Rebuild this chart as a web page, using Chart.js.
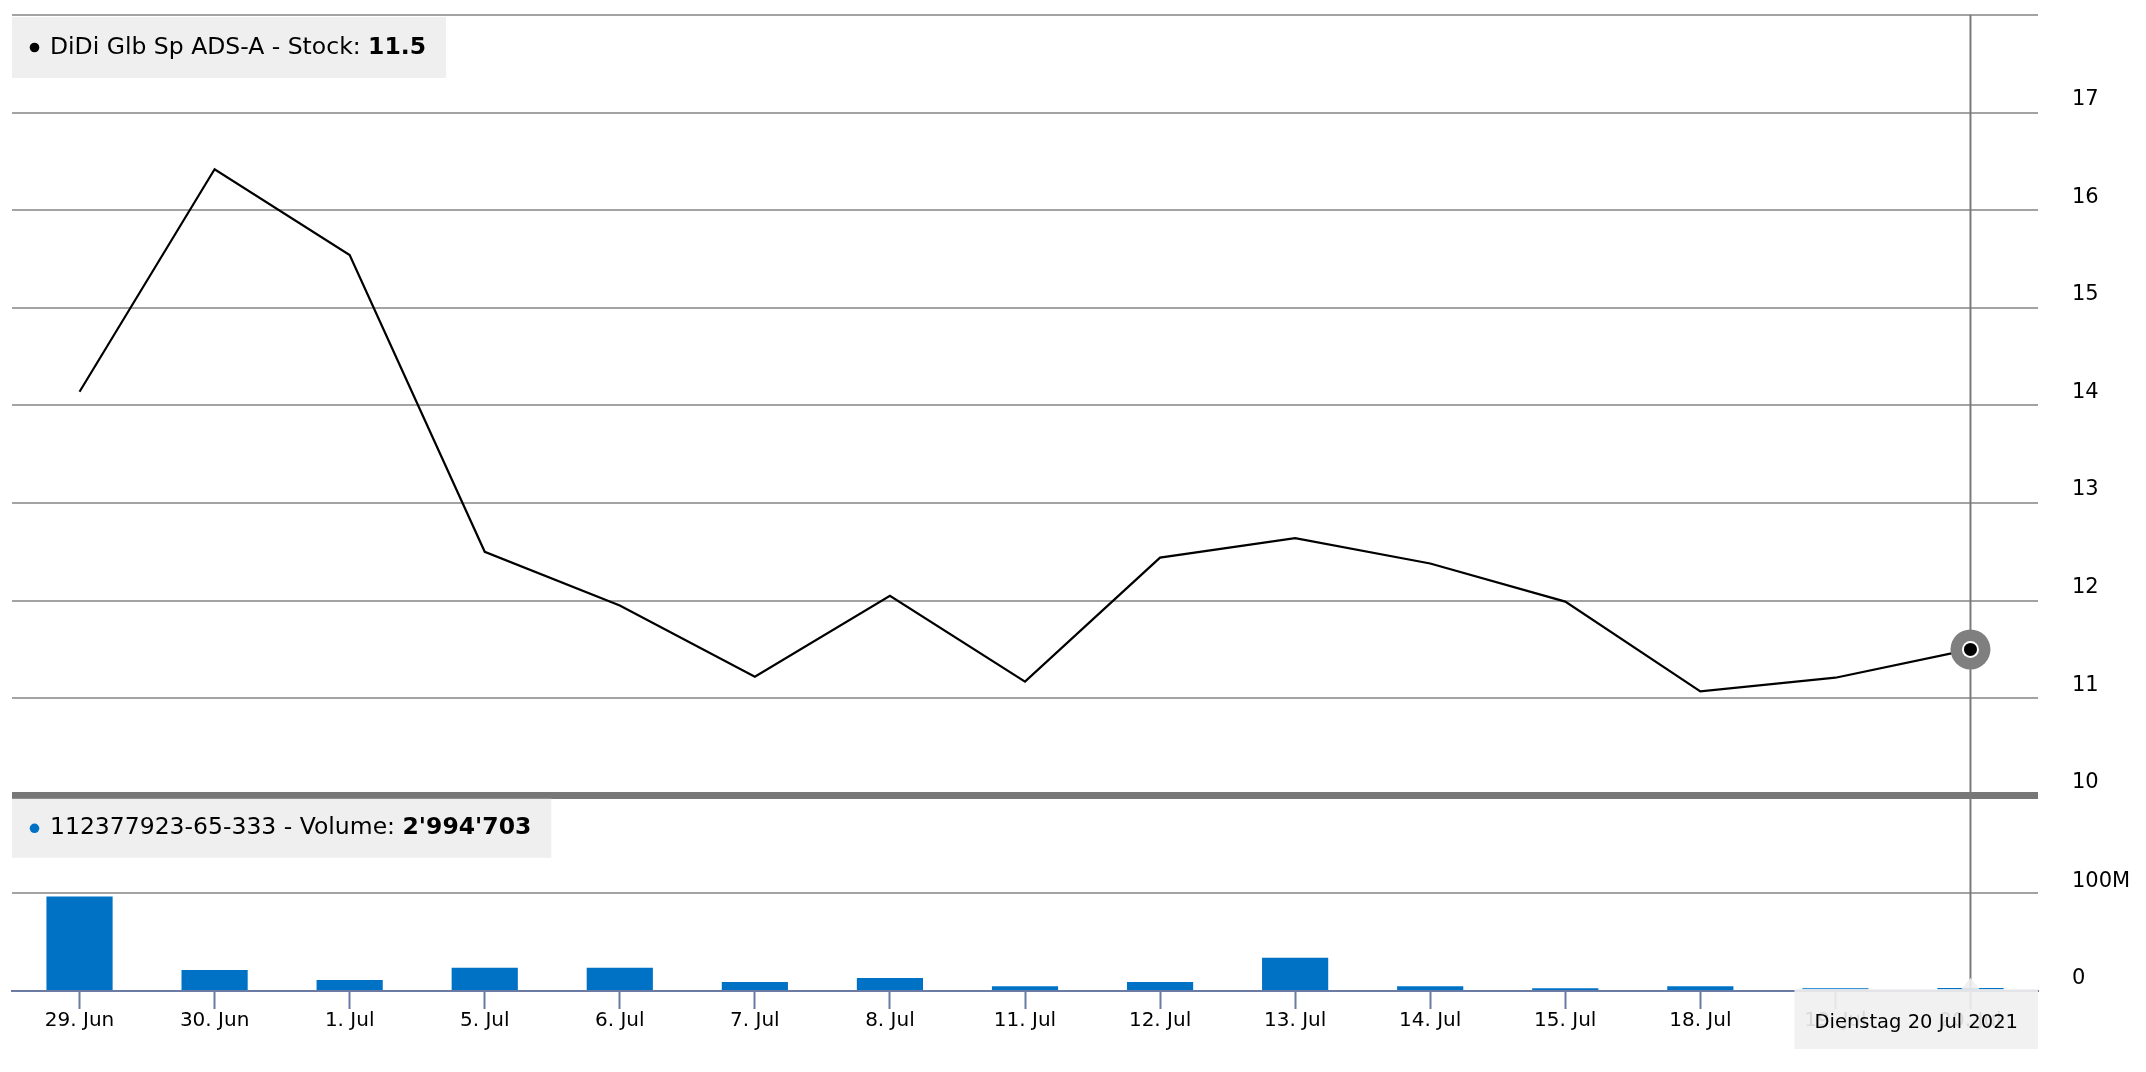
<!DOCTYPE html>
<html>
<head>
<meta charset="utf-8">
<script src="https://cdn.jsdelivr.net/npm/chart.js@4.4.0/dist/chart.umd.min.js"></script>
<style>
  html, body { margin: 0; padding: 0; background: #fff; }
  #wrap { position: relative; width: 2146px; height: 1072px; }
</style>
</head>
<body>
<div id="wrap"><canvas id="chart" width="2146" height="1072"></canvas></div>
<script>
var labels = ['29. Jun', '30. Jun', '1. Jul', '5. Jul', '6. Jul', '7. Jul', '8. Jul', '11. Jul',
              '12. Jul', '13. Jul', '14. Jul', '15. Jul', '18. Jul', '19. Jul', '20. Jul'];
var price = [14.14, 16.42, 15.54, 12.50, 11.95, 11.22, 12.05, 11.17,
             12.44, 12.64, 12.38, 11.99, 11.07, 11.21, 11.5];
var volume = [96900000, 21600000, 11200000, 23700000, 23700000, 9100000, 13300000, 4900000,
              9100000, 34000000, 4900000, 2800000, 4900000, 2800000, 2994703];
var priceTicks = [10, 11, 12, 13, 14, 15, 16, 17, 18];
var volumeTicks = [0, 100000000, 200000000];

var priceName = 'DiDi Glb Sp ADS-A - Stock: ';
var volumeName = '112377923-65-333 - Volume: ';
var tooltipTitle = 'Dienstag 20 Jul 2021';

var FONT = '"DejaVu Sans", sans-serif';
var lastIdx = labels.length - 1;

Chart.defaults.font.family = FONT;
Chart.defaults.color = '#000';

function fmtVolume(v) {
    return String(v).replace(/\B(?=(\d{3})+(?!\d))/g, "'");
}

function drawLegendBox(ctx, left, top, height, dotColor, text, value) {
    ctx.save();
    ctx.font = '23.5px ' + FONT;
    var w1 = ctx.measureText(text).width;
    ctx.font = 'bold 23.5px ' + FONT;
    var w2 = ctx.measureText(value).width;
    var boxW = 38 + w1 + w2 + 20;
    ctx.fillStyle = '#efefef';
    ctx.fillRect(left, top, boxW, height);

    var cy = top + height / 2;
    ctx.fillStyle = dotColor;
    ctx.beginPath();
    ctx.arc(left + 22.5, cy, 4.8, 0, Math.PI * 2);
    ctx.fill();

    ctx.fillStyle = '#000';
    ctx.textBaseline = 'middle';
    ctx.font = '23.5px ' + FONT;
    ctx.fillText(text, left + 38, cy);
    ctx.font = 'bold 23.5px ' + FONT;
    ctx.fillText(value, left + 38 + w1, cy);
    ctx.restore();
}

function noPadding(scale) {
    scale.paddingTop = 0;
    scale.paddingBottom = 0;
    scale.paddingLeft = 0;
    scale.paddingRight = 0;
}

var hoverPlugin = {
    id: 'hover',
    beforeDatasetsDraw: function (chart) {
        var ctx = chart.ctx;
        var area = chart.chartArea;
        var pt = chart.getDatasetMeta(0).data[lastIdx];

        // crosshair
        ctx.save();
        ctx.strokeStyle = '#7a7a7a';
        ctx.lineWidth = 2;
        ctx.beginPath();
        ctx.moveTo(pt.x, area.top);
        ctx.lineTo(pt.x, area.bottom);
        ctx.stroke();
        ctx.restore();
    },
    afterDatasetsDraw: function (chart) {
        var ctx = chart.ctx;
        var pt = chart.getDatasetMeta(0).data[lastIdx];
        // halo + marker
        ctx.save();
        ctx.fillStyle = '#7f7f7f';
        ctx.beginPath();
        ctx.arc(pt.x, pt.y, 20, 0, Math.PI * 2);
        ctx.fill();
        ctx.fillStyle = '#fff';
        ctx.beginPath();
        ctx.arc(pt.x, pt.y, 8.5, 0, Math.PI * 2);
        ctx.fill();
        ctx.fillStyle = '#000';
        ctx.beginPath();
        ctx.arc(pt.x, pt.y, 6.5, 0, Math.PI * 2);
        ctx.fill();
        ctx.restore();
    },
    afterDraw: function (chart) {
        var ctx = chart.ctx;
        var area = chart.chartArea;
        var yP = chart.scales.yPrice;
        var yV = chart.scales.yVol;
        var pt = chart.getDatasetMeta(0).data[lastIdx];

        drawLegendBox(ctx, area.left, yP.top + 2, 61, '#000', priceName, String(price[lastIdx]));
        drawLegendBox(ctx, area.left, yV.top + 3, 59, '#0072c6', volumeName, fmtVolume(volume[lastIdx]));

        // date tooltip under the x axis
        ctx.save();
        ctx.font = '19.5px ' + FONT;
        var tw = ctx.measureText(tooltipTitle).width;
        var boxW = tw + 40;
        var boxR = area.right;
        var boxL = boxR - boxW;
        var boxT = area.bottom - 2;
        var boxB = boxT + 60;
        ctx.fillStyle = 'rgba(239,239,239,0.9)';
        ctx.beginPath();
        ctx.moveTo(boxL, boxT);
        ctx.lineTo(pt.x - 9, boxT);
        ctx.lineTo(pt.x, boxT - 11);
        ctx.lineTo(pt.x + 9, boxT);
        ctx.lineTo(boxR, boxT);
        ctx.lineTo(boxR, boxB);
        ctx.lineTo(boxL, boxB);
        ctx.closePath();
        ctx.fill();
        ctx.fillStyle = '#000';
        ctx.textAlign = 'center';
        ctx.textBaseline = 'middle';
        ctx.fillText(tooltipTitle, (boxL + boxR) / 2, boxT + 34);
        ctx.restore();
    }
};

new Chart(document.getElementById('chart'), {
    data: {
        labels: labels,
        datasets: [{
            type: 'line',
            data: price,
            yAxisID: 'yPrice',
            borderColor: '#000',
            borderWidth: 2.2,
            pointRadius: 0,
            tension: 0
        }, {
            type: 'bar',
            data: volume,
            yAxisID: 'yVol',
            backgroundColor: '#0072c6',
            categoryPercentage: 1,
            barPercentage: 0.49
        }]
    },
    options: {
        responsive: false,
        animation: false,
        devicePixelRatio: 1,
        layout: { padding: { left: 12, top: 15, right: 0, bottom: 0 } },
        plugins: {
            legend: { display: false },
            tooltip: { enabled: false }
        },
        scales: {
            x: {
                type: 'category',
                offset: true,
                grid: {
                    offset: false,
                    drawOnChartArea: false,
                    drawTicks: true,
                    tickLength: 18,
                    tickWidth: 2,
                    tickColor: '#6b7ba3'
                },
                border: { color: '#6b7ba3', width: 2 },
                ticks: {
                    font: { size: 20 },
                    color: '#000',
                    padding: 0,
                    maxRotation: 0,
                    autoSkip: false
                },
                afterFit: function (scale) { scale.height = 81; noPadding(scale); }
            },
            yPrice: {
                type: 'linear',
                position: 'right',
                stack: 'panes',
                stackWeight: 4,
                min: 10,
                max: 18,
                afterBuildTicks: function (scale) {
                    scale.ticks = priceTicks.map(function (v) { return { value: v }; });
                },
                ticks: {
                    font: { size: 21 },
                    color: '#000',
                    padding: 34,
                    crossAlign: 'near',
                    labelOffset: -13,
                    callback: function (v) { return v === 18 ? '' : v; }
                },
                grid: {
                    drawTicks: false,
                    color: function (c) { return c.tick && c.tick.value === 10 ? '#777777' : '#a3a3a3'; },
                    lineWidth: function (c) { return c.tick && c.tick.value === 10 ? 7 : 2; }
                },
                border: { display: false },
                afterFit: function (scale) { scale.width = 108; noPadding(scale); }
            },
            yVol: {
                type: 'linear',
                position: 'right',
                stack: 'panes',
                stackWeight: 1,
                min: 0,
                max: 200000000,
                afterBuildTicks: function (scale) {
                    scale.ticks = volumeTicks.map(function (v) { return { value: v }; });
                },
                ticks: {
                    font: { size: 21 },
                    color: '#000',
                    padding: 34,
                    crossAlign: 'near',
                    labelOffset: -12,
                    callback: function (v) {
                        if (v === 0) return '0';
                        if (v === 100000000) return '100M';
                        return '';
                    }
                },
                grid: {
                    drawTicks: false,
                    color: function (c) { return c.tick && c.tick.value === 100000000 ? '#a3a3a3' : 'rgba(0,0,0,0)'; },
                    lineWidth: 2
                },
                border: { display: false },
                afterFit: function (scale) { scale.width = 108; noPadding(scale); }
            }
        }
    },
    plugins: [hoverPlugin]
});
</script>
</body>
</html>
